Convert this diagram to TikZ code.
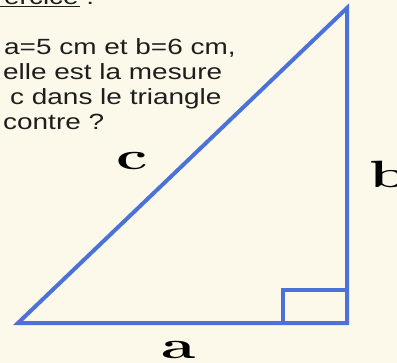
\documentclass[tikz,border=0pt]{standalone}
\usepackage{fontspec}
\newfontfamily\qfont[FakeStretch=1.27]{Liberation Sans}
\definecolor{trblue}{RGB}{74,114,216}
\definecolor{trpaper}{RGB}{253,249,234}
\definecolor{trink}{RGB}{30,30,30}
\usetikzlibrary{positioning}

\begin{document}
\begin{tikzpicture}[
  x=1bp,y=-1bp,
  side/.style={trblue,line width=4bp,line join=miter},
  question/.style={anchor=base west,inner sep=0pt,text=trink,
    font=\qfont\fontsize{22bp}{25bp}\selectfont},
  sidelabel/.style={anchor=base,inner sep=0pt,text=black,
    font=\bfseries\fontsize{38bp}{40bp}\selectfont},
]
  % Page
  \useasboundingbox (0,0) rectangle (397,363);
  \clip (0,0) rectangle (397,363);
  \fill[trpaper] (0,0) rectangle (397,363);

  % Title (cut at the top)
  \node[question] (title) at (4,4) {ercice :};
  \draw[trink,line width=1.5bp] (0,6.5) -- (80,6.5);

  % Question
  \node[question] (q1) at (4,54) {a=5 cm et b=6 cm,};
  \node[question] (q2) at (3,79) {elle est la mesure};
  \node[question] (q3) at (10,104) {c dans le triangle};
  \node[question] (q4) at (3,129) {contre ?};

  % Triangle
  \coordinate (A) at (18,323);
  \coordinate (C) at (347,323);
  \coordinate (B) at (347,8);
  \draw[side] (A) -- (C) -- (B) -- cycle;

  % Right angle
  \draw[side] (283,323) -- (283,290) -- (347,290);

  % Side names
  \node[sidelabel] (lc) at (132,169) {\scalebox{1.65}[1]{c}};
  \node[sidelabel] (lb) at (389,187) {\scalebox{1.65}[1]{b}};
  \node[sidelabel] (la) at (178.5,358) {\scalebox{1.65}[1]{a}};
\end{tikzpicture}
\end{document}
